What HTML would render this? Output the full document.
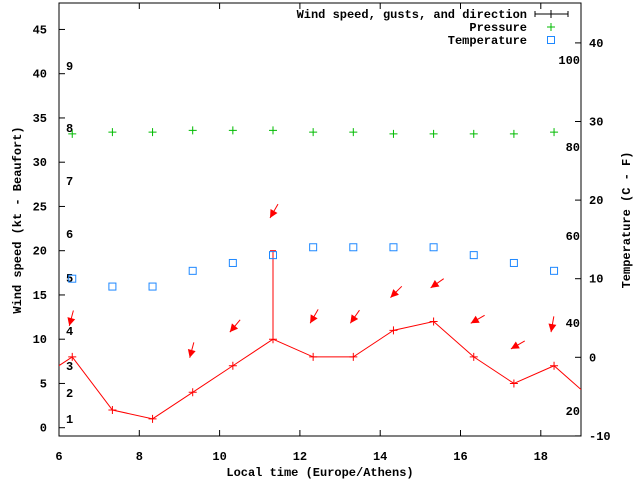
<!DOCTYPE html>
<html><head><meta charset="utf-8"><style>
body{margin:0;background:#fff}
svg text{font-family:"Liberation Mono","DejaVu Sans Mono",monospace;font-size:12px;font-weight:bold;fill:#000}
</style></head><body>
<svg id="c" width="640" height="480" xmlns="http://www.w3.org/2000/svg"></svg>
<script>
const times=[6.33,7.33,8.33,9.33,10.33,11.33,12.33,13.33,14.33,15.33,16.33,17.33,18.33];
const wind=[8,2,1,4,7,10,8,8,11,12,8,5,7];
const windPrev=[5.33,5];
const windNext=[19.33,3];
const gustTime=[11.33];
const gustVal=[20];
const pressure=[33.2,33.4,33.4,33.6,33.6,33.6,33.4,33.4,33.2,33.2,33.2,33.2,33.4];
const temperature=[10,9,9,11,12,13,14,14,14,14,13,12,11];
const arrowTimes=[6.33,9.33,10.33,11.33,12.33,13.33,14.33,15.33,16.33,17.33,18.33];
const arrowY=[11.5,7.9,10.8,23.7,11.8,11.8,14.7,15.8,11.8,8.9,10.8];
const arrowDir=[15,15,40,30,30,35,45,55,60,60,10];
const xTicks=[6,8,10,12,14,16,18];
const yTicks=[0,5,10,15,20,25,30,35,40,45];
const tTicks=[-10,0,10,20,30,40];
const beaufort=[[1,419],[2,393],[3,366],[4,331],[5,278],[6,234],[7,181],[8,128],[9,66]];
const pLabels=[[20,411],[40,323],[60,236],[80,147],[100,60]];
const L=59,R=581,T=3,B=436;
const X=v=>L+(v-6)*40.15;
const Y=v=>427.7-v*8.85;
const YT=v=>357.3-v*7.86;
const svg=document.getElementById('c');
const NS='http://www.w3.org/2000/svg';
function el(tag,attrs,name,parent){const e=document.createElementNS(NS,tag);for(const k in attrs)e.setAttribute(k,attrs[k]);


(parent||svg).appendChild(e);return e;}
function txt(x,y,s,anchor,name,extra){const e=el('text',Object.assign({x:x,y:y,'text-anchor':anchor||'start'},extra||{}),name);e.textContent=s;return e;}
el('rect',{x:L,y:T,width:R-L,height:B-T,fill:'none',stroke:'#000','stroke-width':1},'plot-border');
xTicks.forEach(t=>{const x=X(t);el('line',{x1:x,y1:B,x2:x,y2:B-6,stroke:'#000'},'x-tick');el('line',{x1:x,y1:T,x2:x,y2:T+6,stroke:'#000'},'x-tick-top');txt(x,460,String(t),'middle','x-tick-label');});
yTicks.forEach(t=>{const y=Y(t);el('line',{x1:L,y1:y,x2:L+6,y2:y,stroke:'#000'},'y-tick');txt(47,y+4,String(t),'end','y-tick-label');});
tTicks.forEach(t=>{const y=YT(t);el('line',{x1:R,y1:y,x2:R-6,y2:y,stroke:'#000'},'temp-tick');txt(589,y+4,String(t),'start','temp-tick-label');});
beaufort.forEach(b=>txt(66,b[1]+4,String(b[0]),'start','beaufort-label'));
pLabels.forEach(p=>txt(580,p[1]+4,String(p[0]),'end','pressure-label'));
txt(320,476,'Local time (Europe/Athens)','middle','x-axis-title');
txt(0,0,'Wind speed (kt - Beaufort)','middle','y-axis-title',{transform:'translate(21,220) rotate(-90)'});
txt(0,0,'Temperature (C - F)','middle','temp-axis-title',{transform:'translate(630,220) rotate(-90)'});
// wind line
const g=el('g',{},'wind-series');
const pts=[[windPrev[0],windPrev[1]]].concat(times.map((t,i)=>[t,wind[i]])).concat([[windNext[0],windNext[1]]]);
el('clipPath',{id:'cp'},'clip');
document.querySelector('#cp').appendChild(Object.assign(document.createElementNS(NS,'rect'),{}));
const cr=document.querySelector('#cp rect');cr.setAttribute('x',L);cr.setAttribute('y',T);cr.setAttribute('width',R-L);cr.setAttribute('height',B-T);
el('polyline',{points:pts.map(p=>X(p[0])+','+Y(p[1])).join(' '),fill:'none',stroke:'#f00','clip-path':'url(#cp)'},'wind-line',g);
times.forEach((t,i)=>{const x=X(t),y=Y(wind[i]);el('path',{d:`M${x-4},${y}H${x+4}M${x},${y-4}V${y+4}`,stroke:'#f00'},'wind-point',g);});
gustTime.forEach((t,i)=>{const ti=times.indexOf(t);const x=X(t);el('line',{x1:x,y1:Y(wind[ti]),x2:x,y2:Y(gustVal[i]),stroke:'#f00'},'gust-bar',g);el('line',{x1:x-3,y1:Y(gustVal[i]),x2:x+3,y2:Y(gustVal[i]),stroke:'#f00'},'gust-cap',g);});
// arrows
arrowTimes.forEach((t,i)=>{const hx=X(t)-3,hy=Y(arrowY[i]);const a=arrowDir[i]*Math.PI/180;const dx=Math.sin(a),dy=-Math.cos(a);
const tx=hx+dx*16,ty=hy+dy*16;const px=-dy,py=dx;
el('line',{x1:hx,y1:hy,x2:tx,y2:ty,stroke:'#f00'},'direction-arrow-shaft');
el('polygon',{points:`${hx},${hy} ${hx+dx*8+px*4},${hy+dy*8+py*4} ${hx+dx*8-px*4},${hy+dy*8-py*4}`,fill:'#f00'},'direction-arrow-head');});
// pressure
pressure.forEach((p,i)=>{const x=X(times[i]),y=Y(p);el('path',{d:`M${x-4},${y}H${x+4}M${x},${y-4}V${y+4}`,stroke:'#0b0'},'pressure-point');});
// temperature
temperature.forEach((v,i)=>{const x=X(times[i]),y=YT(v);el('rect',{x:x-3.5,y:y-3.5,width:7,height:7,fill:'none',stroke:'#1e88ff'},'temperature-point');});
// legend
txt(527,18,'Wind speed, gusts, and direction','end','legend-wind');
el('line',{x1:535,y1:14,x2:568,y2:14,stroke:'#000'},'legend-wind-sample');
el('path',{d:'M535,11V17M568,11V17M551,10V18',stroke:'#000'},'legend-wind-caps');
txt(527,31,'Pressure','end','legend-pressure');
el('path',{d:'M547,27H555M551,23V31',stroke:'#0b0'},'legend-pressure-sample');
txt(527,44,'Temperature','end','legend-temperature');
el('rect',{x:547.5,y:36.5,width:7,height:7,fill:'none',stroke:'#1e88ff'},'legend-temperature-sample');
</script>
</body></html>
